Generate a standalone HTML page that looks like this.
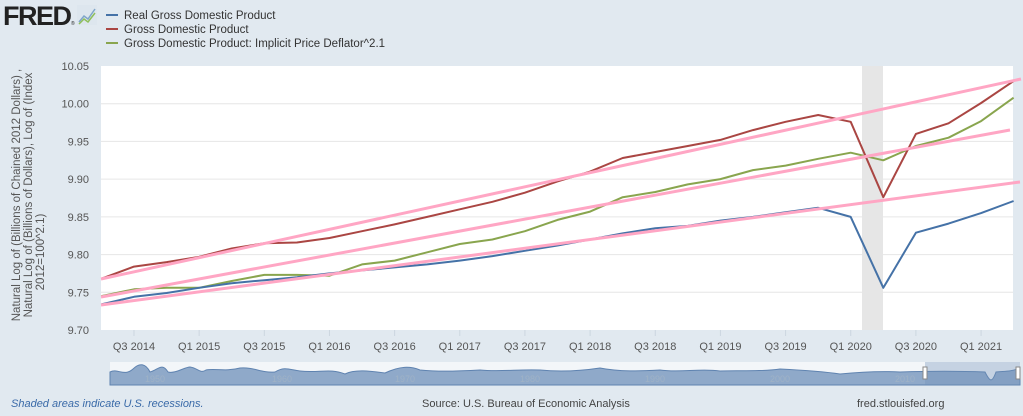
<!DOCTYPE html>
<html><head><meta charset="utf-8"><style>
html,body{margin:0;padding:0;background:#e1e9f0;}
body{width:1023px;height:411px;overflow:hidden;font-family:"Liberation Sans",sans-serif;}
</style></head><body>
<svg id="s" width="1023" height="411" xmlns="http://www.w3.org/2000/svg" font-family="Liberation Sans, sans-serif">
<rect width="1023" height="411" fill="#e1e9f0"/>
<text x="3" y="25" font-size="27" font-weight="bold" fill="#222" letter-spacing="-1.5">FRED</text>
<text x="71" y="25" font-size="5" fill="#222">®</text>
<rect x="77" y="5" width="20" height="20" fill="#dde6ee"/>
<polyline points="79,22 84,16 88,19 95,9" fill="none" stroke="#7fa6c9" stroke-width="1.5"/>
<polyline points="79,24 84,19 88,22 95,13" fill="none" stroke="#8fbf5a" stroke-width="1.5"/>
<line x1="106" y1="15" x2="118" y2="15" stroke="#4572a7" stroke-width="2"/>
<text x="124" y="19" font-size="11.5" fill="#333">Real Gross Domestic Product</text>
<line x1="106" y1="29" x2="118" y2="29" stroke="#aa4643" stroke-width="2"/>
<text x="124" y="33" font-size="11.5" fill="#333">Gross Domestic Product</text>
<line x1="106" y1="43" x2="118" y2="43" stroke="#89a54e" stroke-width="2"/>
<text x="124" y="47" font-size="11.5" fill="#333">Gross Domestic Product: Implicit Price Deflator^2.1</text>
<rect x="101" y="66" width="912" height="264" fill="#fff"/>
<rect x="862" y="66" width="21" height="264" fill="#e6e6e6"/>
<g id="grid" stroke="#e6e6e6" stroke-width="1"></g>
<g id="ylab" font-size="11" fill="#555" text-anchor="end"></g>
<g id="xlab" font-size="11" fill="#555" text-anchor="middle"></g>
<g font-size="11.5" fill="#555" transform="rotate(-90)" text-anchor="middle">
<text x="-195" y="20">Natural Log of (Billions of Chained 2012 Dollars) ,</text>
<text x="-195" y="32">Natural Log of (Billions of Dollars), Log of (Index</text>
<text x="-252" y="44">2012=100^2.1)</text>
</g>
<g id="series" fill="none" stroke-width="2" stroke-linejoin="round"></g>
<line x1="101" y1="279" x2="1021" y2="79" stroke="#ffa6c4" stroke-width="3"/>
<line x1="101" y1="297" x2="1010" y2="130" stroke="#ffa6c4" stroke-width="3"/>
<line x1="101" y1="305" x2="1020" y2="182" stroke="#ffa6c4" stroke-width="3"/>
<rect x="110" y="362" width="910" height="23" fill="#f3f6f9"/>
<path d="M110,385 L110,372 C118,368 124,377 133,369 C140,362 146,364 150,372 C158,370 162,362 168,372 C175,374 185,367 190,367 C198,368 200,374 206,370 C215,368 225,372 240,368 C255,367 260,373 275,372 C285,366 290,370 300,371 C320,373 330,368 345,374 C355,369 370,371 385,373 C400,366 410,366 420,370 C440,372 460,371 480,370 C500,372 520,369 540,370 C560,372 580,371 600,368 C620,372 640,371 660,370 C680,373 700,368 720,371 C740,370 760,372 780,369 C800,370 820,371 840,374 C860,372 880,371 900,372 C930,371 960,371 985,372 C990,382 992,383 996,372 C1004,371 1010,372 1020,368 L1020,385 Z" fill="#8fa9c9" stroke="#5f83b0" stroke-width="1"/>
<rect x="925" y="362" width="95" height="23" fill="#6f8fb8" opacity="0.35"/>
<rect x="923" y="367" width="4" height="12" fill="#fff" stroke="#888"/>
<rect x="1016" y="367" width="4" height="12" fill="#fff" stroke="#888"/>
<g font-size="9" fill="#9fb2c6"><text x="145" y="382">1950</text><text x="272" y="382">1960</text><text x="395" y="382">1970</text><text x="520" y="382">1980</text><text x="645" y="382">1990</text><text x="770" y="382">2000</text><text x="895" y="382">2010</text></g>
<text x="11" y="407" font-size="11" fill="#3a6aa8" font-style="italic">Shaded areas indicate U.S. recessions.</text>
<text x="422" y="407" font-size="11" fill="#444">Source: U.S. Bureau of Economic Analysis</text>
<text x="857" y="407" font-size="11" fill="#444">fred.stlouisfed.org</text>
</svg>
<script>
var NS="http://www.w3.org/2000/svg";
function Y(v){return 330-754.3*(v-9.70);}
function X(i){return 101.4+32.58*i;}
function el(p,t,a,txt){var e=document.createElementNS(NS,t);for(var k in a)e.setAttribute(k,a[k]);if(txt)e.textContent=txt;document.getElementById(p).appendChild(e);}
var labs=["9.70","9.75","9.80","9.85","9.90","9.95","10.00","10.05"];
for(var j=0;j<8;j++){var y=Y(9.70+0.05*j);if(j>0&&j<7)el("grid","line",{x1:101,x2:1013,y1:y,y2:y});el("ylab","text",{x:89,y:y+4},labs[j]);}
var xl=["Q3 2014","Q1 2015","Q3 2015","Q1 2016","Q3 2016","Q1 2017","Q3 2017","Q1 2018","Q3 2018","Q1 2019","Q3 2019","Q1 2020","Q3 2020","Q1 2021"];
for(var k=0;k<xl.length;k++){var x=X(1+2*k);el("grid","line",{x1:x,x2:x,y1:330,y2:336,stroke:"#ccd6e0"});el("xlab","text",{x:x,y:350},xl[k]);}
var blue=[9.734,9.744,9.749,9.756,9.762,9.766,9.770,9.775,9.779,9.783,9.787,9.792,9.798,9.805,9.812,9.820,9.828,9.835,9.838,9.845,9.850,9.856,9.862,9.850,9.756,9.829,9.841,9.855,9.871];
var red=[9.768,9.784,9.790,9.797,9.808,9.815,9.816,9.822,9.831,9.840,9.850,9.860,9.870,9.882,9.897,9.910,9.928,9.936,9.944,9.952,9.965,9.976,9.985,9.976,9.876,9.960,9.974,10.001,10.030];
var green=[9.745,9.754,9.756,9.756,9.765,9.773,9.773,9.772,9.787,9.792,9.803,9.814,9.820,9.831,9.846,9.857,9.876,9.883,9.893,9.900,9.912,9.918,9.927,9.935,9.925,9.944,9.955,9.977,10.008];
function pl(d,c){var p=d.map(function(v,i){return X(i).toFixed(1)+","+Y(v).toFixed(1);}).join(" ");el("series","polyline",{points:p,stroke:c});}
pl(green,"#89a54e");pl(blue,"#4572a7");pl(red,"#aa4643");
</script>
</body></html>
